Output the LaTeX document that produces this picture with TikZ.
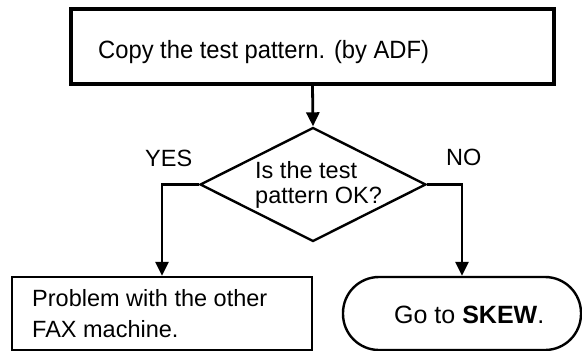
\documentclass[tikz,border=0pt]{standalone}
\usepackage{fontspec}
\setmainfont{Liberation Sans}
\newfontfamily\topfont{Liberation Sans}[FakeStretch=0.95]
\usetikzlibrary{shapes.geometric,arrows.meta}
\begin{document}
\begin{tikzpicture}[x=1pt,y=-1pt,
  box/.style={draw,line width=2.4pt,inner sep=0pt},
  txt/.style={anchor=base west,inner sep=0pt,font=\fontsize{23.5}{25}\selectfont},
  conn/.style={line width=2.8pt,-{Triangle[length=14pt,width=13pt]}}]
\useasboundingbox (0,0) rectangle (582,351);
\node[box,line width=3.2pt,minimum width=483pt,minimum height=75pt] (top) at (312.5,46.5) {};
\node[diamond,draw,line width=2.4pt,minimum width=226pt,minimum height=114pt,inner sep=0pt] (dec) at (313,184.5) {};
\node[box,minimum width=300pt,minimum height=73pt] (lb) at (162,313.5) {};
\node[box,rounded corners=36pt,minimum width=238pt,minimum height=73pt] (rb) at (462,313.5) {};
\node[txt,font=\topfont\fontsize{25}{27}\selectfont] (t1) at (98,58) {Copy the test pattern. (by ADF)};
\node[txt] (t2) at (255,178) {Is the test};
\node[txt] (t3) at (255,203) {pattern OK?};
\node[txt] (yes) at (145,166) {YES};
\node[txt] (no) at (446,165) {NO};
\node[txt] (t4) at (32,306) {Problem with the other};
\node[txt] (t5) at (32,337) {FAX machine.};
\node[txt,font=\fontsize{25}{27}\selectfont] (t6) at (394,323) {Go to \textbf{SKEW}.};
\draw[conn] (top.south) -- (dec.north);
\draw[conn] (dec.west) -| (lb.north);
\draw[conn] (dec.east) -| (rb.north);
\end{tikzpicture}
\end{document}
